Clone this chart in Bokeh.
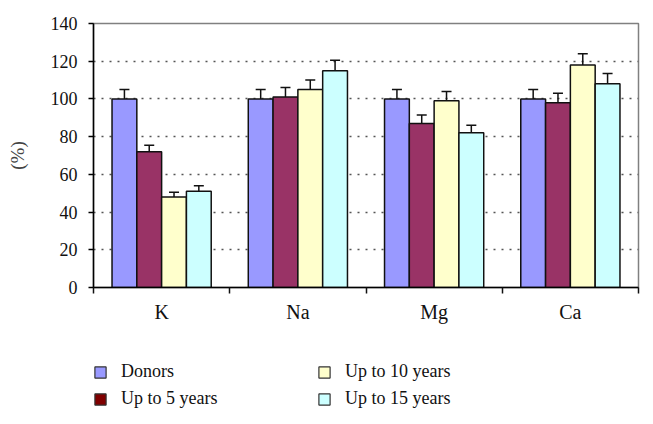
import numpy as np
from bokeh.plotting import figure
from bokeh.layouts import column
from bokeh.models import (ColumnDataSource, Whisker, TeeHead, FixedTicker, Legend,
                          LegendItem, Range1d)
from bokeh.embed import file_html
from bokeh.resources import INLINE

categories = ["K", "Na", "Mg", "Ca"]
series = ["Donors", "Up to 5 years", "Up to 10 years", "Up to 15 years"]
donors = [100, 100, 100, 100]
up5 = [72, 101, 87, 98]
up10 = [48, 105, 99, 118]
up15 = [51, 115, 82, 108]
err_donors = [5, 5, 5, 5]
err_up5 = [3.5, 5, 4.5, 5]
err_up10 = [2.5, 5, 5, 6]
err_up15 = [3, 5.5, 4, 5.5]
y_ticks = [0, 20, 40, 60, 80, 100, 120, 140]

bar_colors = ["#9999FF", "#993366", "#FFFFCC", "#CCFFFF"]
legend_colors = ["#9999FF", "#800000", "#FFFFCC", "#CCFFFF"]
FONT = "Liberation Serif"

values = [donors, up5, up10, up15]
errors = [err_donors, err_up5, err_up10, err_up15]

p = figure(frame_width=545, frame_height=264, output_backend="svg",
           toolbar_location=None, x_range=Range1d(0, len(categories)),
           y_range=Range1d(0, 140), min_border_left=93, min_border_right=15,
           min_border_top=23, min_border_bottom=58)

bar_w = 0.182
offsets = [(-1.5 + j) * bar_w for j in range(len(series))]
centers = np.arange(len(categories)) + 0.5

for j, (vals, errs) in enumerate(zip(values, errors)):
    x = centers + offsets[j]
    v = np.array(vals, dtype=float)
    e = np.array(errs, dtype=float)
    src = ColumnDataSource(dict(x=x, top=v, upper=v + e, lower=v - e))
    p.vbar(x="x", top="top", width=bar_w, source=src, fill_color=bar_colors[j],
           line_color="#111111", line_width=1.5)
    w = Whisker(base="x", upper="upper", lower="lower", source=src,
                line_color="#111111", line_width=1.5,
                upper_head=TeeHead(size=10, line_color="#111111", line_width=1.5),
                lower_head=TeeHead(size=10, line_color="#111111", line_width=1.5))
    p.add_layout(w)

# axes
p.yaxis.ticker = FixedTicker(ticks=y_ticks)
p.yaxis.major_tick_out = 5
p.yaxis.major_tick_in = 0
p.yaxis.minor_tick_line_color = None
p.yaxis.axis_line_width = 1.5
p.yaxis.major_tick_line_width = 1.5
p.yaxis.major_label_standoff = 11
p.yaxis.axis_label = "(%)"
p.yaxis.axis_label_standoff = 20
p.yaxis.axis_label_text_font = FONT
p.yaxis.axis_label_text_font_style = "normal"
p.yaxis.axis_label_text_font_size = "19px"
p.yaxis.major_label_text_font = FONT
p.yaxis.major_label_text_font_size = "18px"
p.yaxis.major_label_text_color = "#111111"

p.xaxis.ticker = FixedTicker(ticks=list(centers),
                             minor_ticks=list(range(len(categories) + 1)))
p.xaxis.major_label_overrides = {float(c): lab for c, lab in zip(centers, categories)}
p.xaxis.major_tick_line_color = None
p.xaxis.major_tick_out = 0
p.xaxis.major_tick_in = 0
p.xaxis.minor_tick_out = 6
p.xaxis.minor_tick_in = 0
p.xaxis.minor_tick_line_width = 1.5
p.xaxis.minor_tick_line_color = "#111111"
p.xaxis.axis_line_width = 1.5
p.xaxis.major_label_standoff = 7
p.xaxis.major_label_text_font = FONT
p.xaxis.major_label_text_font_size = "20px"
p.xaxis.major_label_text_color = "#111111"

p.xgrid.grid_line_color = None
p.ygrid.ticker = FixedTicker(ticks=y_ticks[1:-1])
p.ygrid.grid_line_color = "#555555"
p.ygrid.grid_line_dash = "2 6"
p.ygrid.grid_line_width = 1.5

p.outline_line_color = "#808080"
p.outline_line_width = 1.5

# legend figure below the chart (its swatch glyphs sit outside its view)
lf = figure(frame_width=653, frame_height=79, output_backend="svg",
            toolbar_location=None, x_axis_type=None, y_axis_type=None,
            x_range=Range1d(-10, -9), y_range=Range1d(0, 1),
            min_border_left=0, min_border_right=0, min_border_top=0,
            min_border_bottom=0)
lf.outline_line_color = None
lf.grid.grid_line_color = None

renderers = []
for j in range(len(series)):
    r = lf.vbar(x=centers + offsets[j], top=values[j], width=bar_w,
                fill_color=legend_colors[j], line_color="#333333", line_width=1.2)
    renderers.append(r)


def make_legend(items, loc):
    return Legend(items=items, location=loc, orientation="vertical",
                  glyph_width=14, glyph_height=14, label_height=21,
                  label_standoff=14, spacing=6, padding=0, margin=0,
                  border_line_color=None, background_fill_alpha=0,
                  label_text_font=FONT, label_text_font_size="18px",
                  label_text_color="#111111")


items = [LegendItem(label=s, renderers=[r]) for s, r in zip(series, renderers)]
lf.add_layout(make_legend(items[:2], (93, 15)))
lf.add_layout(make_legend(items[2:], (317, 15)))

layout = column(p, lf, spacing=0)
open("out.html", "w").write(file_html(layout, INLINE))
